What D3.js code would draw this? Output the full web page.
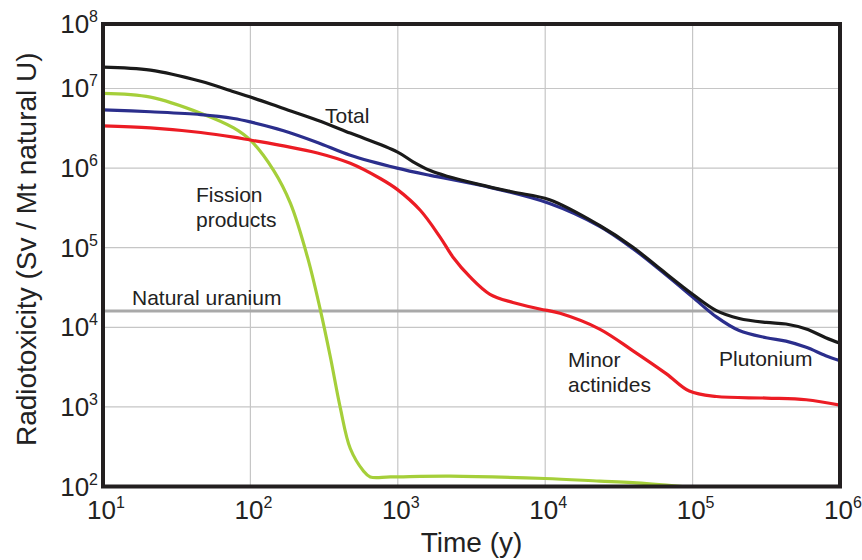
<!DOCTYPE html>
<html>
<head>
<meta charset="utf-8">
<script src="https://cdn.jsdelivr.net/npm/d3@7"></script>
<style>
  body { margin: 0; background: #fff; }
  svg { display: block; font-family: "Liberation Sans", Arial, sans-serif; }
  .grid line { stroke: #c6c6c6; stroke-width: 1.2; }
  .tick-label { font-size: 26px; fill: #222; }
  .axis-title { font-size: 28px; fill: #222; }
  .note { font-size: 21px; fill: #222; }
  .curve { fill: none; stroke-width: 3.2; stroke-linejoin: round; stroke-linecap: round; }
</style>
</head>
<body>
<svg id="chart" width="862" height="560"></svg>
<script>
// [time in years, radiotoxicity in Sv / Mt natural U]
const total = [
  [10, 1.86e7], [21, 1.7e7], [46, 1.23e7], [77, 9.1e6], [100, 7.8e6],
  [168, 5.6e6], [285, 4.0e6], [476, 2.75e6], [990, 1.6e6], [1270, 1.2e6],
  [1660, 9.3e5], [2160, 7.9e5], [3600, 6.2e5], [6040, 5.0e5], [10700, 4.0e5],
  [23400, 1.9e5], [39200, 1.02e5], [59600, 5.5e4], [1e5, 2.6e4], [1.45e5, 1.62e4],
  [2.07e5, 1.29e4], [3.16e5, 1.15e4], [4.3e5, 1.1e4], [5.9e5, 9.5e3], [8.0e5, 7.4e3],
  [1e6, 6.3e3]
];
const plutonium = [
  [10, 5.4e6], [21, 5.1e6], [46, 4.7e6], [77, 4.2e6], [100, 3.8e6],
  [168, 2.95e6], [285, 2.1e6], [476, 1.45e6], [990, 1.0e6], [1660, 8.1e5],
  [3780, 6.0e5], [10700, 3.6e5], [23400, 1.86e5], [39200, 9.8e4], [66500, 4.5e4],
  [1e5, 2.4e4], [1.45e5, 1.35e4], [2.07e5, 9.1e3], [3.16e5, 7.4e3], [4.3e5, 6.7e3],
  [5.9e5, 5.6e3], [8.0e5, 4.4e3], [1e6, 3.8e3]
];
const minorActinides = [
  [10, 3.4e6], [21, 3.2e6], [46, 2.8e6], [77, 2.45e6], [100, 2.25e6],
  [168, 1.9e6], [285, 1.55e6], [476, 1.15e6], [760, 7.4e5], [990, 5.4e5],
  [1420, 2.95e5], [1940, 1.35e5], [2370, 7.6e4], [3090, 4.3e4], [4220, 2.6e4],
  [6040, 2.05e4], [9180, 1.7e4], [12600, 1.5e4], [23400, 9.5e3],
  [39200, 5.1e3], [66500, 2.6e3], [95000, 1.58e3], [1.45e5, 1.35e3], [3.16e5, 1.29e3],
  [5.9e5, 1.23e3], [1e6, 1.05e3]
];
const fissionProducts = [
  [10, 8.7e6], [21, 7.8e6], [46, 4.9e6], [77, 3.2e6], [100, 2.24e6],
  [144, 9.3e5], [187, 3.6e5], [244, 7.6e4], [299, 1.62e4], [349, 4.2e3],
  [407, 980], [476, 300], [583, 158], [650, 132], [890, 132],
  [2260, 135], [9930, 126], [23400, 117], [39200, 112], [85300, 100]
];
const naturalUranium = 1.6e4;

const xTicks = [1, 2, 3, 4, 5, 6];      // exponents of 10
const yTicks = [2, 3, 4, 5, 6, 7];
const yTopLabel = 8;

const series = [
  {data: fissionProducts, color: '#a5cf3a'},
  {data: minorActinides, color: '#ec1c24'},
  {data: plutonium, color: '#2b2e8c'},
  {data: total, color: '#1a1a1a'}
];
const notes = [
  {lines: ['Total'], x: 325, y: 123},
  {lines: ['Fission', 'products'], x: 196, y: 202},
  {lines: ['Natural uranium'], x: 132, y: 305},
  {lines: ['Minor', 'actinides'], x: 568, y: 367},
  {lines: ['Plutonium'], x: 719, y: 366}
];

const plotLeft = 103, plotRight = 840, plotTop = 24, plotBottom = 486.5;

const svg = d3.select('#chart');

const x = d3.scaleLog().domain([10, 1e6]).range([plotLeft, plotRight]);
const y = d3.scaleLog().domain([100, Math.pow(10, 7.81)]).range([plotBottom, plotTop]);

svg.append('defs').append('clipPath')
    .attr('id', 'plot-clip')
    .append('rect')
    .attr('x', plotLeft).attr('y', plotTop)
    .attr('width', plotRight - plotLeft).attr('height', plotBottom - plotTop);

// grid
const grid = svg.append('g').attr('class', 'grid');
grid.selectAll('.gx')
    .data(xTicks.slice(1, -1))
    .enter().append('line')
    .attr('x1', d => x(Math.pow(10, d))).attr('x2', d => x(Math.pow(10, d)))
    .attr('y1', plotTop).attr('y2', plotBottom);
grid.selectAll('.gy')
    .data(yTicks.slice(1))
    .enter().append('line')
    .attr('x1', plotLeft).attr('x2', plotRight)
    .attr('y1', d => y(Math.pow(10, d))).attr('y2', d => y(Math.pow(10, d)));

// natural uranium level
svg.append('line')
    .attr('x1', plotLeft).attr('x2', plotRight)
    .attr('y1', y(naturalUranium)).attr('y2', y(naturalUranium))
    .attr('stroke', '#a9a9a9')
    .attr('stroke-width', 3);

const line = d3.line()
    .x(d => x(d[0]))
    .y(d => y(d[1]))
    .curve(d3.curveCatmullRom.alpha(0.5));

svg.append('g')
    .attr('clip-path', 'url(#plot-clip)')
    .selectAll('path')
    .data(series)
    .enter().append('path')
    .attr('class', 'curve')
    .attr('stroke', d => d.color)
    .attr('d', d => line(d.data));

// frame
svg.append('rect')
    .attr('x', plotLeft).attr('y', plotTop)
    .attr('width', plotRight - plotLeft).attr('height', plotBottom - plotTop)
    .attr('fill', 'none')
    .attr('stroke', '#231f20')
    .attr('stroke-width', 4);

// tick labels
function powerLabel(sel, exp) {
  sel.append('tspan').text('10');
  sel.append('tspan')
      .attr('dy', -11)
      .attr('font-size', 16)
      .text(exp);
}

xTicks.forEach(e => {
  svg.append('text')
      .attr('class', 'tick-label')
      .attr('x', x(Math.pow(10, e)) + 3)
      .attr('y', 519)
      .attr('text-anchor', 'middle')
      .call(powerLabel, e);
});
yTicks.forEach(e => {
  svg.append('text')
      .attr('class', 'tick-label')
      .attr('x', 98)
      .attr('y', y(Math.pow(10, e)) + 9)
      .attr('text-anchor', 'end')
      .call(powerLabel, e);
});
svg.append('text')
    .attr('class', 'tick-label')
    .attr('x', 98)
    .attr('y', plotTop + 9)
    .attr('text-anchor', 'end')
    .call(powerLabel, yTopLabel);

// axis titles
svg.append('text')
    .attr('class', 'axis-title')
    .attr('x', (plotLeft + plotRight) / 2)
    .attr('y', 552)
    .attr('text-anchor', 'middle')
    .text('Time (y)');
svg.append('text')
    .attr('class', 'axis-title')
    .attr('transform', `translate(36,${(plotTop + plotBottom) / 2 - 6}) rotate(-90)`)
    .attr('text-anchor', 'middle')
    .text('Radiotoxicity (Sv / Mt natural U)');

// curve annotations
notes.forEach(n => {
  const t = svg.append('text')
      .attr('class', 'note')
      .attr('x', n.x)
      .attr('y', n.y);
  n.lines.forEach((s, i) => {
    t.append('tspan')
        .attr('x', n.x)
        .attr('dy', i === 0 ? 0 : 25)
        .text(s);
  });
});
</script>
</body>
</html>
